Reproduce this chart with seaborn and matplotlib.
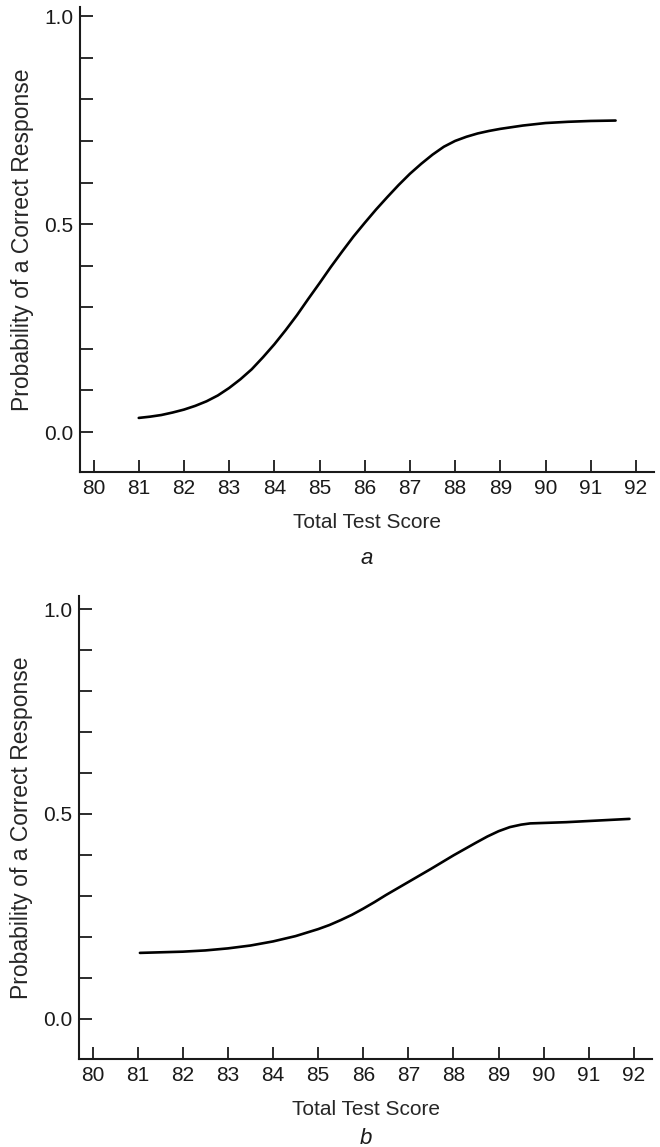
import numpy as np
import pandas as pd
import seaborn as sns
from matplotlib import pyplot as plt

# curve a
score_a = [81.0, 81.25, 81.5, 81.75, 82.0, 82.25, 82.5, 82.75, 83.0, 83.25, 83.5,
           83.75, 84.0, 84.25, 84.5, 84.75, 85.0, 85.25, 85.5, 85.75, 86.0, 86.25,
           86.5, 86.75, 87.0, 87.25, 87.5, 87.75, 88.0, 88.25, 88.5, 88.75, 89.0,
           89.5, 90.0, 90.5, 91.0, 91.55]
prob_a = [0.034, 0.037, 0.041, 0.047, 0.054, 0.063, 0.074, 0.088, 0.106, 0.127, 0.151,
          0.180, 0.211, 0.245, 0.281, 0.320, 0.358, 0.397, 0.434, 0.470, 0.503, 0.535,
          0.565, 0.594, 0.621, 0.645, 0.667, 0.686, 0.700, 0.710, 0.718, 0.724, 0.729,
          0.737, 0.743, 0.746, 0.748, 0.749]

# curve b
score_b = [81.05, 82.0, 82.5, 83.0, 83.5, 84.0, 84.5, 85.0, 85.25, 85.5, 85.75,
           86.0, 86.25, 86.5, 86.75, 87.0, 87.5, 88.0, 88.5, 88.75, 89.0, 89.25,
           89.5, 89.7, 90.5, 91.9]
prob_b = [0.161, 0.164, 0.167, 0.172, 0.179, 0.189, 0.202, 0.219, 0.229, 0.241, 0.254,
          0.269, 0.285, 0.302, 0.318, 0.334, 0.366, 0.399, 0.430, 0.445, 0.458, 0.468,
          0.474, 0.477, 0.480, 0.488]

x_ticks = list(range(80, 93))
y_ticks = [round(0.1 * i, 1) for i in range(11)]
y_labels = ["0.0", "", "", "", "", "0.5", "", "", "", "", "1.0"]

sns.set_style("ticks")
plt.rcParams["font.family"] = ["Liberation Sans", "DejaVu Sans"]
plt.rcParams["text.color"] = "#1a1a1a"

fig = plt.figure(figsize=(6.6, 11.47), dpi=100)

panels = [
    # data, axes rect, ylim, caption, caption y
    (score_a, prob_a, [0.1212, 0.5885, 0.8697, 0.4054], (-0.096, 1.022), "a", -0.187),
    (score_b, prob_b, [0.1197, 0.0767, 0.8682, 0.4037], (-0.098, 1.032), "b", -0.172),
]

for xs, ys, rect, ylim, caption, cap_y in panels:
    ax = fig.add_axes(rect)
    df = pd.DataFrame({"Total Test Score": xs, "Probability": ys})
    sns.lineplot(data=df, x="Total Test Score", y="Probability", ax=ax,
                 color="black", linewidth=1.9, sort=True)
    ax.set_xlim(79.70, 92.40)
    ax.set_ylim(*ylim)
    ax.set_xticks(x_ticks)
    ax.set_yticks(y_ticks)
    ax.set_yticklabels(y_labels)
    ax.tick_params(direction="in", length=9, width=1.3, labelsize=15,
                   colors="#1a1a1a", pad=5)
    for side in ("top", "right"):
        ax.spines[side].set_visible(False)
    for side in ("left", "bottom"):
        ax.spines[side].set_linewidth(1.5)
        ax.spines[side].set_color("#1a1a1a")
    ax.set_xlabel("Total Test Score", fontsize=15, labelpad=11)
    ax.set_ylabel("Probability of a Correct Response", fontsize=16.5, labelpad=7)
    ax.text(0.5, cap_y, caption, transform=ax.transAxes, ha="center", va="center",
            fontsize=16, style="italic")

fig.savefig("out.png", dpi=100)
